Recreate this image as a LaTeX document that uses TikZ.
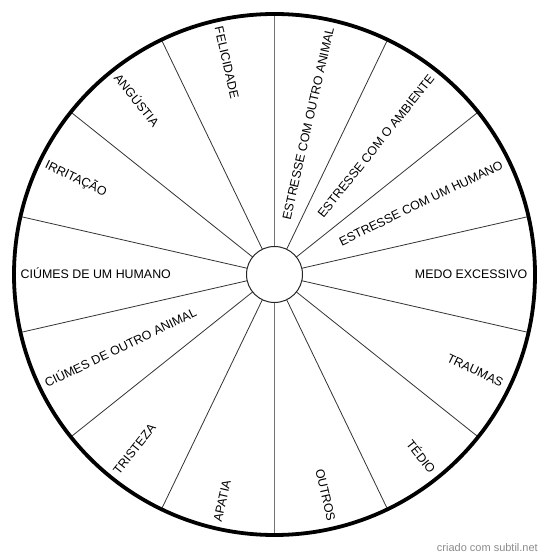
\documentclass[tikz,border=0pt]{standalone}
\usepackage{fontspec}
\setmainfont{Liberation Sans}
\usetikzlibrary{calc}
\begin{document}
\begin{tikzpicture}[x=1pt,y=1pt,
  spoke/.style={draw=black!80,line width=0.8pt},
  vspoke/.style={draw=black!55,line width=1.3pt},
  rim/.style={draw=black,line width=3.8pt},
  hub/.style={circle,draw=black!85,line width=1pt,fill=white,minimum size=56pt,inner sep=0pt},
  lab/.style={font=\fontsize{12.4}{14}\selectfont,inner sep=0pt,text height=0.72em,text depth=0pt},
  wmark/.style={font=\fontsize{11}{13}\selectfont,text=black!45,inner sep=0pt}]
\useasboundingbox (0,0) rectangle (550,559);
\fill[white] (0,0) rectangle (550,559);
\coordinate (c) at (274.5,284.5);
% spokes
\foreach \k in {1,...,6,8,9,10,11,12,13}{
  \draw[spoke] ($(c)+({90+\k*360/14}:28)$) -- ($(c)+({90+\k*360/14}:260)$);
}
\draw[vspoke] ($(c)+(90:28)$) -- ($(c)+(90:260)$);
\draw[vspoke] ($(c)+(-90:28)$) -- ($(c)+(-90:260)$);
\draw[rim] (c) circle (260.5);
\node[hub] (hub) at (c) {};
% labels right half
\foreach \a/\t/\n in {77.142857/ESTRESSE COM OUTRO ANIMAL/r1,
                      51.428571/ESTRESSE COM O AMBIENTE/r2,
                      25.714286/ESTRESSE COM UM HUMANO/r3,
                      0/MEDO EXCESSIVO/r4,
                      -25.714286/TRAUMAS/r5,
                      -51.428571/TÉDIO/r6,
                      -77.142857/OUTROS/r7}{
  \node[lab,anchor=east,rotate=\a] (\n) at ($(c)+(\a:253)$) {\t};
}
% labels left half
\foreach \a/\t/\n in {102.857143/FELICIDADE/l1,
                      128.571429/ANGÚSTIA/l2,
                      154.285714/IRRITAÇÃO/l3,
                      180/CIÚMES DE UM HUMANO/l4,
                      205.714286/CIÚMES DE OUTRO ANIMAL/l5,
                      231.428571/TRISTEZA/l6,
                      257.142857/APATIA/l7}{
  \node[lab,anchor=west,rotate=\a-180] (\n) at ($(c)+(\a:254)$) {\t};
}
\node[wmark,anchor=east] (wm) at (538,11.5) {criado com subtil.net};
\end{tikzpicture}
\end{document}
